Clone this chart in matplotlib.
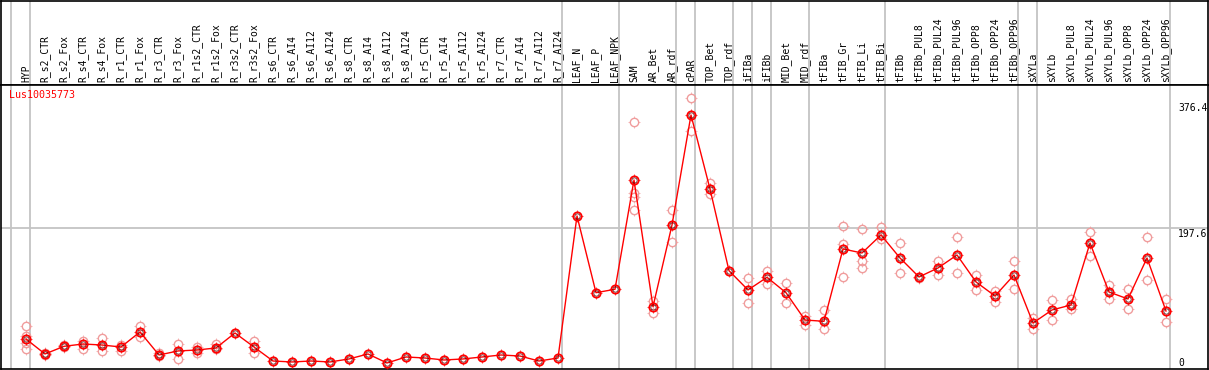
import matplotlib
matplotlib.use("Agg")
import matplotlib.pyplot as plt
import matplotlib.path as mpath
import numpy as np

# Nomes das amostras (colunas)
samples = ["HYP", "R_s2_CTR", "R_s2_Fox", "R_s4_CTR", "R_s4_Fox", "R_r1_CTR", "R_r1_Fox",
           "R_r3_CTR", "R_r3_Fox", "R_r1s2_CTR", "R_r1s2_Fox", "R_r3s2_CTR", "R_r3s2_Fox",
           "R_s6_CTR", "R_s6_AI4", "R_s6_AI12", "R_s6_AI24", "R_s8_CTR", "R_s8_AI4",
           "R_s8_AI12", "R_s8_AI24", "R_r5_CTR", "R_r5_AI4", "R_r5_AI12", "R_r5_AI24",
           "R_r7_CTR", "R_r7_AI4", "R_r7_AI12", "R_r7_AI24", "LEAF_N", "LEAF_P", "LEAF_NPK",
           "SAM", "AR_Bet", "AR_rdf", "cPAR", "TOP_Bet", "TOP_rdf", "iFIBa", "iFIBb",
           "MID_Bet", "MID_rdf", "tFIBa", "tFIB_Gr", "tFIB_Li", "tFIB_Bi", "tFIBb",
           "tFIBb_PUL8", "tFIBb_PUL24", "tFIBb_PUL96", "tFIBb_OPP8", "tFIBb_OPP24",
           "tFIBb_OPP96", "sXYLa", "sXYLb", "sXYLb_PUL8", "sXYLb_PUL24", "sXYLb_PUL96",
           "sXYLb_OPP8", "sXYLb_OPP24", "sXYLb_OPP96"]

# Valores médios
means = [35.1, 13.2, 24.4, 27.8, 26.3, 23.4, 45.4, 11.7, 17.6, 19.0, 22.0, 43.9, 23.4,
         2.9, 1.5, 2.9, 1.5, 5.9, 13.2, 0.0, 8.8, 7.3, 4.4, 5.9, 8.8, 11.7, 10.2, 2.9, 7.3,
         215.2, 102.9, 107.9, 267.9, 82.4, 202.0, 363.0, 254.7, 135.1, 106.9, 125.4,
         102.9, 62.9, 61.0, 166.9, 161.0, 187.4, 153.7, 125.9, 139.1, 158.1, 118.6, 98.1,
         128.8, 58.5, 77.6, 84.9, 175.6, 103.9, 93.7, 153.7, 76.1]

# Réplicas individuais
reps = [[54.2, 39.5, 29.3, 20.5], [14.6, 11.7], [26.3, 22.7], [32.2, 20.5], [36.6, 17.6],
        [26.3, 17.6], [54.2, 38.1], [14.6, 10.2], [27.8, 5.9], [23.4, 14.6], [27.8, 20.5],
        [], [32.2, 14.6], [], [], [], [], [], [], [], [], [], [], [], [], [], [], [], [],
        [], [], [], [352.8, 248.8, 243.0, 223.9], [90.7, 73.2], [223.9, 177.1],
        [387.9, 339.6], [263.5, 247.4], [], [124.4, 88.3], [135.1, 115.2], [116.7, 88.3],
        [69.2, 56.1], [77.1, 50.2], [200.5, 174.2, 125.9], [196.1, 149.3, 139.1],
        [199.1, 181.5], [175.6, 131.7], [124.4], [149.3, 128.8], [184.4, 131.7],
        [128.8, 106.9], [105.4, 89.3], [149.3, 108.3], [65.9, 49.8], [92.2, 62.9],
        [93.7, 79.0], [191.7, 156.6], [114.2, 93.7], [108.3, 79.0], [184.4, 121.5],
        [93.7, 60.0]]

# Separadores de grupos (depois destes índices)
groups_after = [-1, 0, 28, 31, 34, 35, 37, 38, 39, 41, 45, 52, 53, 60]

yticks = [0, 197.6, 376.4]
gene = "Lus10035773"

x = np.arange(len(samples))

# marcador dos traços (só os 4 traços fora do círculo)
t = 1.35
ticks_mk = mpath.Path([(0, 1), (0, t), (0, -1), (0, -t), (1, 0), (t, 0), (-1, 0), (-t, 0)],
                      [1, 2, 1, 2, 1, 2, 1, 2])


def target(xs, ys, color, ring_lw, zo):
    # círculo + traços pequenos
    ax.plot(xs, ys, linestyle="none", marker=ticks_mk, markersize=8.1,
            markerfacecolor="none", markeredgecolor=color, markeredgewidth=0.5, zorder=zo)
    ax.plot(xs, ys, linestyle="none", marker="o", markersize=6.0,
            markerfacecolor="none", markeredgecolor=color, markeredgewidth=ring_lw, zorder=zo)


W, H = 1209, 370
fig = plt.figure(figsize=(W / 100, H / 100), dpi=100)

xlim = ((1 - 26) / 19, (1208 - 26) / 19)

# eixo do cabeçalho (nomes rodados)
axh = fig.add_axes([1 / W, (H - 85) / H, 1207 / W, 84 / H])
axh.set_xlim(*xlim)
axh.set_ylim(0, 84)
axh.set_xticks([])
axh.set_yticks([])
for s in axh.spines.values():
    s.set_linewidth(1.2)
for i, name in enumerate(samples):
    axh.text(i, 2.5, name, rotation=90, ha="center", va="bottom",
             fontsize=7, family="DejaVu Sans Mono")

# eixo principal
ax = fig.add_axes([1 / W, 1 / H, 1207 / W, 284 / H])
ax.set_xlim(*xlim)
ax.set_ylim(-8.8, 406.9)
ax.set_xticks([])
ax.set_yticks([])
for s in ax.spines.values():
    s.set_linewidth(1.2)

for g in groups_after:
    for a in (ax, axh):
        a.axvline(g + 4 / 19, color="#c4c4c4", lw=1.3, zorder=0)
ax.axhline(197.6, color="#c4c4c4", lw=1.3, zorder=0)

# réplicas
for i, r in enumerate(reps):
    if r:
        target([i] * len(r), r, "#f09c9c", 1.0, 2)

# linha e médias
ax.plot(x, means, color="red", lw=1.0, zorder=3)
target(x, means, "red", 1.3, 4)
ax.plot(x, means, linestyle="none", marker="o", markersize=3.8, markerfacecolor="none",
        markeredgecolor="#500000", markeredgewidth=0.5, zorder=5)

# etiquetas do eixo y à direita
for v in yticks:
    if v == 0:
        ax.text((1178 - 26) / 19, v, f"{v:g}", ha="left", va="center",
                fontsize=7, family="DejaVu Sans Mono")
    else:
        ax.text((1178 - 26) / 19, v + 4 if v > 300 else v - 2, f"{v:g}", ha="left",
                va="top", fontsize=7, family="DejaVu Sans Mono")

ax.text((9 - 26) / 19, 400, gene, color="red", ha="left", va="top",
        fontsize=7.2, family="DejaVu Sans Mono")

plt.savefig("out.png", dpi=100)
